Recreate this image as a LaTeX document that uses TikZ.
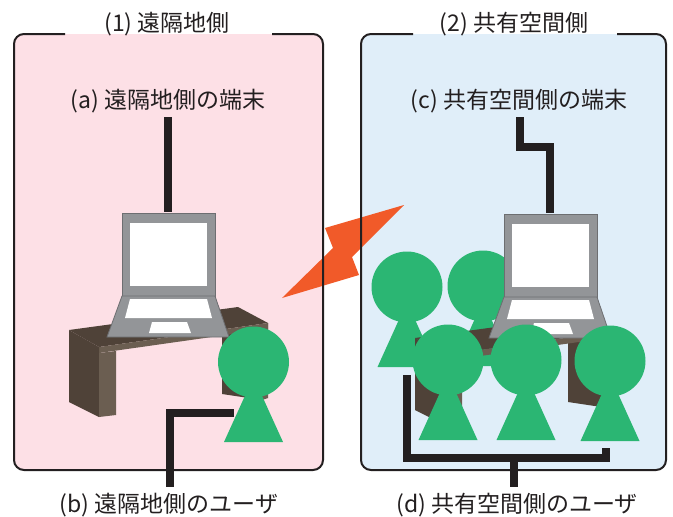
\documentclass[tikz,border=0pt]{standalone}
\usepackage{fontspec}
\setmainfont{Noto Sans CJK JP}
\definecolor{remotebg}{HTML}{FDE0E6}
\definecolor{sharedbg}{HTML}{E0EEF9}
\definecolor{ink}{HTML}{231F20}
\definecolor{usergreen}{HTML}{2BB673}
\definecolor{boltorange}{HTML}{F15A29}
\definecolor{deskdark}{HTML}{4F4238}
\definecolor{desklight}{HTML}{6B5E51}
\definecolor{lapgray}{HTML}{939598}
\definecolor{lapedge}{HTML}{6D6E71}
\tikzset{
  lbl/.style={inner sep=1.5pt, font=\fontsize{23}{28}\selectfont, text=ink},
  panelframe/.style={draw=ink, line width=2pt, rounded corners=10pt},
  conn/.style={draw=ink, line width=8pt, miter limit=10},
  laptop/.pic={
    % screen
    \filldraw[fill=lapgray, draw=lapedge, line width=0.8pt] (0,0) rectangle (93,83);
    \fill[white] (8,10) rectangle (85,73);
    % base
    \filldraw[fill=lapgray, draw=lapedge, line width=0.8pt]
      (0,83) -- (93,83) -- (107,124) -- (-15,124) -- cycle;
    \fill[white] (8,86) -- (85,86) -- (90,105) -- (3,105) -- cycle;
    \fill[white] (30,109) -- (65,109) -- (69,120) -- (27,120) -- cycle;
  },
  desk/.pic={
    % back leg
    \fill[deskdark] (153,4) -- (193,-1) -- (193,70) -- (153,64) -- cycle;
    \fill[desklight] (193,-1) -- (199,-7) -- (199,68) -- (193,70) -- cycle;
    % top slab
    \fill[deskdark] (0,0) -- (169,-23) -- (199,-7) -- (30,17) -- cycle;
    \fill[desklight] (30,17) -- (199,-7) -- (199,-1) -- (30,23) -- cycle;
    % front leg
    \fill[deskdark] (0,0) -- (30,17) -- (30,87) -- (0,72) -- cycle;
    \fill[desklight] (30,23) -- (47,21) -- (47,85) -- (30,87) -- cycle;
  },
  person/.pic={
    \fill[usergreen] (0,15) -- (29.5,80) -- (-29.5,80) -- cycle;
    \fill[usergreen] (0,0) circle[radius=35.5];
  },
}
\begin{document}
\begin{tikzpicture}[x=1pt, y=-1pt]
\useasboundingbox (0,0) rectangle (673,517);

% panel backgrounds
\fill[remotebg, rounded corners=10pt] (14,34) rectangle (323,470);
\fill[sharedbg, rounded corners=10pt] (361,34) rectangle (666,470);

% link between the two sites
\fill[boltorange] (404,205) -- (325,228) -- (333,248) -- (282,298)
  -- (359,275) -- (352,257) -- cycle;

% panel frames, open at the top for the titles
\draw[panelframe] (65,34) -- (14,34) -- (14,470) -- (323,470) -- (323,34) -- (272,34);
\draw[panelframe] (413,34) -- (361,34) -- (361,470) -- (666,470) -- (666,34) -- (617,34);

% titles and labels
\node[lbl] (t1) at (167,24) {(1) 遠隔地側};
\node[lbl] (t2) at (514,24) {(2) 共有空間側};
\node[lbl] (la) at (168,101) {(a) 遠隔地側の端末};
\node[lbl] (lc) at (519,101) {(c) 共有空間側の端末};
\node[lbl] (lb) at (169,505) {(b) 遠隔地側のユーザ};
\node[lbl] (ld) at (517,505) {(d) 共有空間側のユーザ};

% ---- remote site ----
\coordinate (lapA) at (168,212);
\draw[conn] (168,117) coordinate (aFoot) -- (lapA);
\pic at (69,330) {desk};
\pic at (122,213) {laptop};
\coordinate (userB) at (234,413);
\coordinate (bFoot) at (170,487);
\draw[conn] (userB) -- (bFoot |- userB) -- (bFoot);
\pic at (253.5,362) {person};

% ---- shared space ----
\coordinate (lapC) at (550,213);
\coordinate (cFoot) at (520,117);
\draw[conn] (cFoot) -- (520,147) -| (lapC);
\pic at (407,287) {person};
\pic at (483,286) {person};
\begin{scope}[shift={(415,338)}, xscale=0.92]
  \pic at (0,0) {desk};
\end{scope}
\pic at (504,214) {laptop};
\pic at (448,360) {person};
\pic at (526,360) {person};
\pic at (610,361) {person};
\coordinate (grpL) at (407,375);
\coordinate (grpR) at (606,448);
\coordinate (dFoot) at (514,487);
\draw[conn] (grpL) |- (dFoot |- 0,457.5) -| (grpR);
\draw[conn] (dFoot |- 0,457.5) -- (dFoot);
\end{tikzpicture}
\end{document}
